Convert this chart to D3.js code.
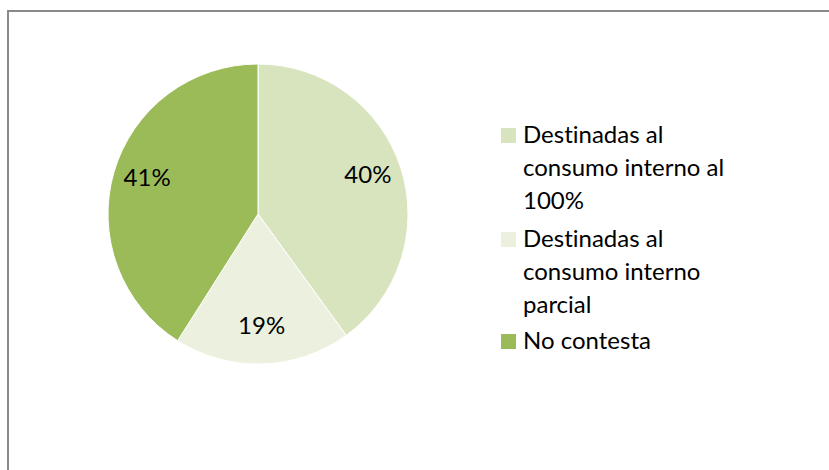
<!DOCTYPE html>
<html>
<head>
<meta charset="utf-8">
<script src="https://cdn.jsdelivr.net/npm/d3@7"></script>
<style>
  html, body { margin: 0; padding: 0; background: #fff; }
  svg { display: block; }
  text { font-variant-ligatures: none; font-feature-settings: "liga" 0; }
</style>
</head>
<body>
<svg id="chart" width="829" height="470"></svg>
<script>
const categories = ["Destinadas al consumo interno al 100%", "Destinadas al consumo interno parcial", "No contesta"];
const legendLines = [["Destinadas al", "consumo interno al", "100%"], ["Destinadas al", "consumo interno", "parcial"], ["No contesta"]];
const values = [40, 19, 41];
const labels = ["40%", "19%", "41%"];
const colors = ["#D7E4BD", "#EBF1DE", "#9BBB59"];

const svg = d3.select("#chart");
const font = "Lato, 'Open Sans', sans-serif";
const fs = 24;

// chart border
svg.append("rect")
  .attr("x", 8).attr("y", 11)
  .attr("width", 840).attr("height", 480)
  .attr("fill", "none").attr("stroke", "#898989").attr("stroke-width", 2);

const cx = 258, cy = 214, r = 150;
const pie = d3.pie().sort(null).value(d => d);
const arcs = pie(values);
const arc = d3.arc().innerRadius(0).outerRadius(r);
const labelArc = d3.arc().innerRadius(r * 0.77).outerRadius(r * 0.77);

const g = svg.append("g").attr("transform", `translate(${cx},${cy})`);
g.selectAll("path").data(arcs).enter().append("path")
  .attr("d", arc)
  .attr("fill", (d, i) => colors[i])
  .attr("stroke", "#fff").attr("stroke-width", 1);

g.selectAll("text").data(arcs).enter().append("text")
  .attr("transform", d => { const c = labelArc.centroid(d); return `translate(${c[0]},${c[1] - 4})`; })
  .attr("text-anchor", "middle")
  .attr("dy", "0.35em")
  .attr("font-family", font).attr("font-size", fs).attr("fill", "#000")
  .text((d, i) => labels[i]);

// legend
const legX = 501, textX = 523;
const lineH = 33;
const firstBaselines = [143, 247, 349];
categories.forEach((c, i) => {
  const by = firstBaselines[i];
  svg.append("rect").attr("x", legX).attr("y", by - 15).attr("width", 15).attr("height", 15).attr("fill", colors[i]);
  const t = svg.append("text").attr("x", textX).attr("y", by)
    .attr("font-family", font).attr("font-size", fs).attr("fill", "#000");
  legendLines[i].forEach((ln, j) => {
    t.append("tspan").attr("x", textX).attr("y", by + j * lineH).text(ln);
  });
});
</script>
</body>
</html>
